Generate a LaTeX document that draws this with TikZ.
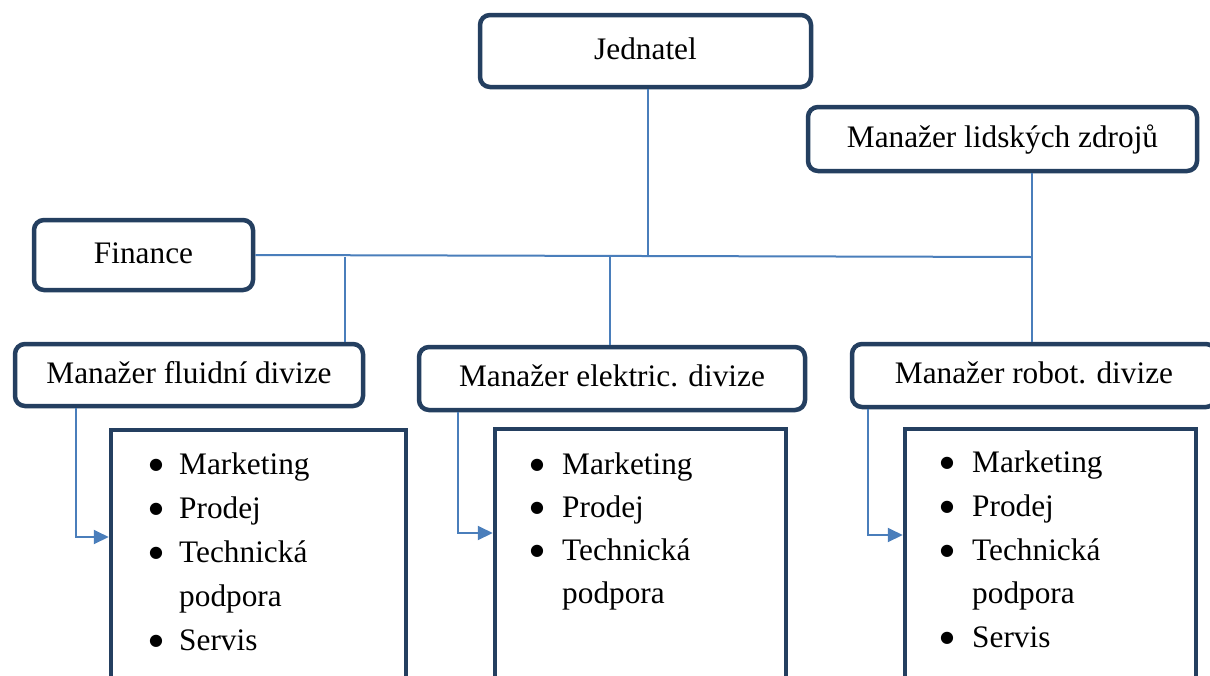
\documentclass[tikz,border=0pt]{standalone}
\usepackage{fontspec}
\setmainfont{Liberation Serif}
\newfontfamily\bulfont{DejaVu Sans}
\usetikzlibrary{arrows.meta}
\definecolor{boxc}{HTML}{243F60}
\definecolor{linec}{HTML}{4A7EBB}
\begin{document}
\begin{tikzpicture}[x=1pt,y=-1pt,
  txt/.style={font=\fontsize{31.3}{37}\selectfont},
  rbox/.style={txt,draw=boxc,line width=4.5pt,rounded corners=10pt,inner sep=0pt,text height=22pt,text depth=6pt},
  lbox/.style={draw=boxc,line width=4.5pt,inner sep=0pt},
  conn/.style={draw=linec,line width=2pt},
  arr/.style={conn,-{Triangle[length=15pt,width=14pt]}},
  bul/.style={font=\bulfont\fontsize{16}{16}\selectfont,anchor=base,inner sep=0pt,yshift=5pt},
  itm/.style={txt,anchor=base west,inner sep=0pt}]
\useasboundingbox (0,0) rectangle (1210,675);
\clip (0,0) rectangle (1210,675);
\fill[white] (0,0) rectangle (1210,675);

% boxes
\node[rbox,minimum width=331pt,minimum height=72pt] (jed) at (645.5,51) {Jednatel};
\node[rbox,minimum width=389pt,minimum height=64pt] (hr) at (1002.5,139) {Manažer lidských zdrojů};
\node[rbox,minimum width=219pt,minimum height=70pt] (fin) at (143.5,255) {Finance};
\node[rbox,minimum width=348pt,minimum height=62pt] (flu) at (189,375) {Manažer fluidní divize};
\node[rbox,minimum width=386pt,minimum height=63pt] (ele) at (612,378.5) {Manažer elektric. divize};
\node[rbox,minimum width=364pt,minimum height=63pt] (rob) at (1034,375.5) {Manažer robot. divize};

\node[lbox,minimum width=295pt,minimum height=290pt] (flul) at (258.5,575) {};
\node[lbox,minimum width=291pt,minimum height=291pt] (elel) at (640.5,574.5) {};
\node[lbox,minimum width=291pt,minimum height=291pt] (robl) at (1050.5,574.5) {};

% bus and junctions
\coordinate (busR) at (1032,257);
\coordinate (j1) at (345,257);
\coordinate (j2) at (610,257);
\coordinate (jj) at (648,257);
\draw[conn] (fin.east) -- (busR);
\draw[conn] (jed.south -| jj) -- (jj);
\draw[conn] (hr.south -| busR) -- (rob.north -| busR);
\draw[conn] (j1) -- (flu.north -| j1);
\draw[conn] (j2) -- (ele.north -| j2);

% arrows to lists
\coordinate (fa) at (76,537);
\coordinate (ea) at (458,533);
\coordinate (ra) at (868,535);
\draw[arr] (flu.south -| fa) |- (flul.west |- fa);
\draw[arr] (ele.south -| ea) |- (elel.west |- ea);
\draw[arr] (rob.south -| ra) |- (robl.west |- ra);

% fluid list
\node[bul] (fb1) at (156,474) {●};
\node[itm] (ft1) at (179,474) {Marketing};
\node[bul] (fb2) at (156,518) {●};
\node[itm] (ft2) at (179,518) {Prodej};
\node[bul] (fb3) at (156,562) {●};
\node[itm] (ft3) at (179,562) {Technická};
\node[itm] (ft4) at (179,606) {podpora};
\node[bul] (fb5) at (156,650) {●};
\node[itm] (ft5) at (179,650) {Servis};

% elektric list
\node[bul] (eb1) at (537,474) {●};
\node[itm] (et1) at (562,474) {Marketing};
\node[bul] (eb2) at (537,517) {●};
\node[itm] (et2) at (562,517) {Prodej};
\node[bul] (eb3) at (537,560) {●};
\node[itm] (et3) at (562,560) {Technická};
\node[itm] (et4) at (562,603) {podpora};

% robot list
\node[bul] (rb1) at (947,472) {●};
\node[itm] (rt1) at (972,472) {Marketing};
\node[bul] (rb2) at (947,516) {●};
\node[itm] (rt2) at (972,516) {Prodej};
\node[bul] (rb3) at (947,560) {●};
\node[itm] (rt3) at (972,560) {Technická};
\node[itm] (rt4) at (972,603) {podpora};
\node[bul] (rb5) at (947,647) {●};
\node[itm] (rt5) at (972,647) {Servis};
\end{tikzpicture}
\end{document}
